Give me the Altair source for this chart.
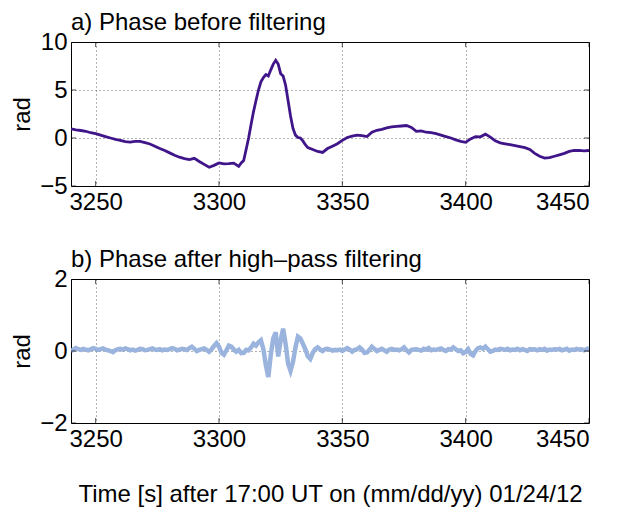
import altair as alt
import pandas as pd

# ---- panel a: phase before filtering (rad) ----
t_a = [3240, 3242, 3244, 3246, 3248, 3250, 3252, 3254, 3256, 3258,
       3260, 3262, 3264, 3266, 3268, 3270, 3272, 3274, 3276, 3278,
       3280, 3282, 3284, 3286, 3288, 3290, 3292, 3294, 3296, 3298,
       3300, 3302, 3304, 3306, 3308, 3309, 3310, 3311, 3312, 3313,
       3314, 3315, 3316, 3317, 3318, 3319, 3320, 3321, 3322, 3323,
       3324, 3325, 3326, 3327, 3328, 3329, 3330, 3331, 3332, 3333,
       3334, 3335, 3336, 3338, 3340, 3342, 3344, 3346, 3348, 3350,
       3352, 3354, 3356, 3358, 3360, 3362, 3364, 3366, 3368, 3370,
       3372, 3374, 3376, 3378, 3380, 3382, 3384, 3386, 3388, 3390,
       3392, 3394, 3396, 3398, 3400, 3402, 3404, 3406, 3408, 3410,
       3412, 3414, 3416, 3418, 3420, 3422, 3424, 3426, 3428, 3430,
       3432, 3434, 3436, 3438, 3440, 3442, 3444, 3446, 3448, 3450]
v_a = [0.95, 0.85, 0.78, 0.70, 0.55, 0.45, 0.30, 0.15, 0.00, -0.15,
       -0.25, -0.38, -0.42, -0.35, -0.36, -0.48, -0.62, -0.85, -1.10, -1.30,
       -1.55, -1.80, -2.00, -2.15, -2.25, -2.12, -2.45, -2.75, -3.05, -2.85,
       -2.60, -2.70, -2.68, -2.62, -2.95, -2.60, -2.35, -1.20, 0.00, 1.40,
       2.75, 3.90, 5.00, 5.85, 6.30, 6.60, 6.45, 7.10, 7.70, 8.10,
       7.70, 6.70, 6.45, 5.50, 3.90, 2.30, 1.00, 0.30, 0.05, 0.00,
       -0.30, -0.70, -1.00, -1.20, -1.40, -1.50, -1.10, -0.85, -0.60, -0.25,
       0.05, 0.20, 0.30, 0.25, 0.15, 0.60, 0.80, 0.90, 1.05, 1.15,
       1.20, 1.25, 1.30, 1.10, 0.70, 0.75, 0.60, 0.55, 0.45, 0.30,
       0.15, 0.00, -0.20, -0.35, -0.45, -0.10, 0.15, 0.12, 0.40, 0.10,
       -0.30, -0.50, -0.60, -0.70, -0.80, -0.90, -1.00, -1.20, -1.60, -1.90,
       -2.10, -2.05, -1.90, -1.75, -1.60, -1.40, -1.30, -1.30, -1.35, -1.30]

# ---- panel b: phase after high-pass filtering (rad), 1 s steps from 3240 ----
t_b = list(range(3240, 3451))
v_b = [0.00, 0.04, 0.08, 0.05, 0.03, 0.06, 0.04, 0.02, 0.05, 0.08,
       0.06, 0.03, 0.05, 0.07, 0.04, 0.02, 0.00, -0.03, 0.02, 0.05,
       0.06, 0.04, 0.07, 0.05, 0.02, 0.04, 0.01, 0.03, 0.06, 0.05,
       0.02, 0.03, 0.05, 0.07, 0.04, 0.03, 0.05, 0.02, 0.04, 0.03,
       0.05, 0.08, 0.06, 0.02, 0.04, 0.06, 0.05, 0.03, 0.08, 0.12,
       0.06, 0.00, 0.03, 0.05, 0.07, 0.03, -0.02, 0.05, 0.14, 0.22,
       0.12, -0.05, -0.10, 0.02, 0.15, 0.12, 0.04, -0.02, 0.03, -0.06,
       -0.05, 0.03, 0.02, 0.10, 0.20, 0.15, 0.24, 0.30, 0.05, -0.40,
       -0.72, -0.10, 0.35, 0.52, -0.15, 0.30, 0.62, 0.20, -0.35, -0.55,
       -0.30, 0.10, 0.40, 0.35, 0.20, 0.05, -0.15, -0.22, -0.05, 0.05,
       0.10, 0.04, 0.00, 0.05, 0.06, 0.04, 0.01, 0.03, 0.02, 0.04,
       0.00, 0.04, 0.08, 0.04, -0.02, 0.03, 0.05, 0.10, 0.04, -0.05,
       -0.04, 0.03, 0.12, 0.06, 0.00, 0.03, 0.06, 0.02, -0.02, 0.04,
       0.06, 0.03, 0.04, 0.02, 0.05, 0.10, 0.02, -0.04, 0.03, 0.04,
       0.05, 0.03, 0.01, 0.06, 0.04, 0.08, 0.02, 0.04, 0.03, 0.05,
       0.07, 0.03, 0.00, 0.05, 0.04, 0.10, 0.05, 0.00, 0.02, -0.06,
       -0.03, 0.05, -0.08, -0.12, 0.00, 0.08, 0.10, 0.06, 0.12, 0.05,
       -0.02, 0.00, 0.04, 0.03, 0.06, 0.05, 0.03, 0.06, 0.02, 0.04,
       0.03, 0.06, 0.02, 0.05, 0.03, 0.00, 0.05, 0.04, 0.05, 0.02,
       0.05, 0.03, 0.06, 0.01, 0.04, 0.03, 0.05, 0.04, 0.06, 0.02,
       0.04, 0.06, 0.01, 0.04, 0.03, 0.06, 0.04, 0.05, 0.02, 0.05,
       0.08]

x_ticks = [3250, 3300, 3350, 3400, 3450]
x_domain = [3240, 3450]
ya_domain = [-5, 10]
ya_ticks = [-5, 0, 5, 10]
yb_domain = [-2, 2]
yb_ticks = [-2, 0, 2]

title_a = "a) Phase before filtering"
title_b = "b) Phase after high–pass filtering"
x_title = "Time [s] after 17:00 UT on (mm/dd/yy) 01/24/12"
y_title = "rad"

FONT = "Liberation Sans"
FS = 24

df_a = pd.DataFrame({"t": t_a, "v": v_a})
df_b = pd.DataFrame({"t": t_b, "v": v_b})


def panel(df, color, width_px, title, ydom, yticks, height, xtitle=None):
    xaxis_kw = dict(values=x_ticks, format="d", labelPadding=4)
    if xtitle is not None:
        xaxis_kw.update(title=xtitle, titlePadding=31)
    else:
        xaxis_kw.update(title="")
    xs = alt.Scale(domain=x_domain, nice=False, zero=False)
    ys = alt.Scale(domain=ydom, nice=False, zero=False)

    line = alt.Chart(df).mark_line(color=color, strokeWidth=width_px, clip=True).encode(
        x=alt.X("t:Q", scale=xs, axis=alt.Axis(**xaxis_kw)),
        y=alt.Y("v:Q", scale=ys,
                axis=alt.Axis(values=yticks, title=y_title, titlePadding=5, labelPadding=4)),
    )

    # inward tick marks on all four sides (half of each tick is clipped away)
    xt = pd.DataFrame({"t": x_ticks * 2,
                       "v": [ydom[0]] * len(x_ticks) + [ydom[1]] * len(x_ticks)})
    yt = pd.DataFrame({"t": [x_domain[0]] * len(yticks) + [x_domain[1]] * len(yticks),
                       "v": yticks * 2})
    xtick = alt.Chart(xt).mark_tick(orient="vertical", size=10, thickness=1,
                                    color="black", clip=True).encode(
        x=alt.X("t:Q", scale=xs), y=alt.Y("v:Q", scale=ys))
    ytick = alt.Chart(yt).mark_tick(orient="horizontal", size=10, thickness=1,
                                    color="black", clip=True).encode(
        x=alt.X("t:Q", scale=xs), y=alt.Y("v:Q", scale=ys))

    return alt.layer(line, xtick, ytick).properties(
        width=518, height=height,
        title=alt.TitleParams(title, anchor="start", frame="group", offset=-5),
    )


top = panel(df_a, "#3f1589", 2.8, title_a, ya_domain, ya_ticks, 144)
bottom = panel(df_b, "#9ab4de", 4.5, title_b, yb_domain, yb_ticks, 144, x_title)

chart = alt.vconcat(top, bottom, spacing=32).properties(
    padding={"left": 2, "top": 2, "right": 5, "bottom": 0}
).configure_axis(
    labelFont=FONT, titleFont=FONT, labelFontSize=FS, titleFontSize=FS,
    labelColor="black", titleColor="black", titleFontWeight="normal",
    grid=True, gridColor="#000000", gridOpacity=0.6, gridDash=[1, 3], gridWidth=1,
    domain=False, ticks=False,
).configure_view(
    stroke="black", strokeWidth=1,
).configure_title(
    font=FONT, fontSize=FS, fontWeight="normal", color="black",
)

chart.save("out.html", embed_options={"renderer": "svg", "actions": False})
